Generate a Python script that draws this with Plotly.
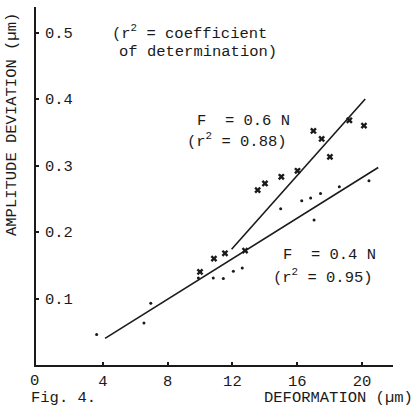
import plotly.graph_objects as go

# ---- data ----
x_f06 = [10.0, 10.86, 11.54, 12.78, 13.56, 14.01, 15.02, 16.02, 17.0, 17.51, 18.02, 19.22, 20.12]
y_f06 = [0.140, 0.160, 0.168, 0.172, 0.263, 0.273, 0.283, 0.292, 0.352, 0.340, 0.313, 0.368, 0.360]

x_f04 = [3.62, 6.54, 6.96, 9.9, 10.82, 11.44, 12.06, 12.61, 14.98, 16.28, 16.83, 17.04, 17.44, 18.6, 20.43]
y_f04 = [0.046, 0.063, 0.093, 0.131, 0.131, 0.130, 0.141, 0.146, 0.235, 0.247, 0.251, 0.218, 0.258, 0.268, 0.277]

fit06_x = [11.95, 20.2]
fit06_y = [0.174, 0.400]
fit04_x = [4.14, 21.0]
fit04_y = [0.040, 0.297]

x_ticks = [0, 4, 8, 12, 16, 20]
x_tick_labels = ["0", "4", "8", "12", "16", "20"]
y_ticks = [0.1, 0.2, 0.3, 0.4, 0.5]
y_tick_labels = ["0.1", "0.2", "0.3", "0.4", "0.5"]

# ---- layout geometry ----
W, H = 416, 407
L, R, T, B = 36, 393, 7, 365
FONT = "Liberation Mono"
INK = "#1a1a1a"
FS = 15.5


def px(xp):
    return (xp - L) / (R - L)


def py(yp):
    return (B - yp) / (B - T)


NB = "\u00a0"

fig = go.Figure()
fig.add_trace(go.Scatter(x=fit04_x, y=fit04_y, mode="lines",
                         line=dict(color=INK, width=1.6), showlegend=False, hoverinfo="skip"))
fig.add_trace(go.Scatter(x=fit06_x, y=fit06_y, mode="lines",
                         line=dict(color=INK, width=1.6), showlegend=False, hoverinfo="skip"))
fig.add_trace(go.Scatter(x=x_f04, y=y_f04, mode="markers",
                         marker=dict(symbol="circle", size=3, color=INK), showlegend=False))
fig.add_trace(go.Scatter(x=x_f06, y=y_f06, mode="markers",
                         marker=dict(symbol="x", size=6, color=INK), showlegend=False))

texts = [
    (f"(r<sup>2</sup>{NB}={NB}coefficient", 110, 33, "left"),
    (f"of{NB}determination)", 117, 52, "left"),
    (f"F{NB}{NB}={NB}0.6{NB}N", 195, 121, "left"),
    (f"(r<sup>2</sup>{NB}={NB}0.88)", 185, 140, "left"),
    (f"F{NB}{NB}={NB}0.4{NB}N", 281, 255, "left"),
    (f"(r<sup>2</sup>{NB}={NB}0.95)", 271, 276, "left"),
    (f"Fig.{NB}4.", 29, 398, "left"),
    (f"DEFORMATION{NB}(µm)", 415, 398, "right"),
]
for t, xp, yp, anc in texts:
    fig.add_annotation(text=t, x=px(xp), y=py(yp), xref="paper", yref="paper",
                       xanchor=anc, yanchor="middle", showarrow=False,
                       font=dict(family=FONT, size=FS, color=INK))

# the "0" tick label, which plotly drops at the corner of the axes
fig.add_annotation(text=x_tick_labels[0], x=x_ticks[0], y=py(381), xref="x", yref="paper",
                   xanchor="center", yanchor="middle", xshift=-4, showarrow=False,
                   font=dict(family=FONT, size=FS, color=INK))

fig.add_annotation(text=f"AMPLITUDE{NB}DEVIATION{NB}(µm)", x=px(12), y=py(125),
                   xref="paper", yref="paper", xanchor="center", yanchor="middle",
                   textangle=-90, showarrow=False,
                   font=dict(family=FONT, size=FS, color=INK))

x0 = -(38 - L) / 16.2
x1 = (R - 38) / 16.2
fig.update_layout(
    width=W, height=H,
    margin=dict(l=L, r=W - R, t=T, b=H - B),
    paper_bgcolor="white", plot_bgcolor="white",
    xaxis=dict(range=[x0, x1], showgrid=False, zeroline=False,
               showline=True, linecolor=INK, linewidth=2,
               ticks="inside", ticklen=3, tickwidth=2, tickcolor=INK,
               tickvals=x_ticks, ticktext=x_tick_labels,
               tickfont=dict(family=FONT, size=FS, color=INK)),
    yaxis=dict(range=[0, (B - T) / 665], showgrid=False, zeroline=False,
               showline=True, linecolor=INK, linewidth=2,
               ticks="inside", ticklen=3, tickwidth=2, tickcolor=INK,
               tickvals=y_ticks, ticktext=y_tick_labels,
               ticklabelposition="inside", ticklabelstandoff=6,
               tickfont=dict(family=FONT, size=FS, color=INK)),
)

fig.write_html("out.html")
